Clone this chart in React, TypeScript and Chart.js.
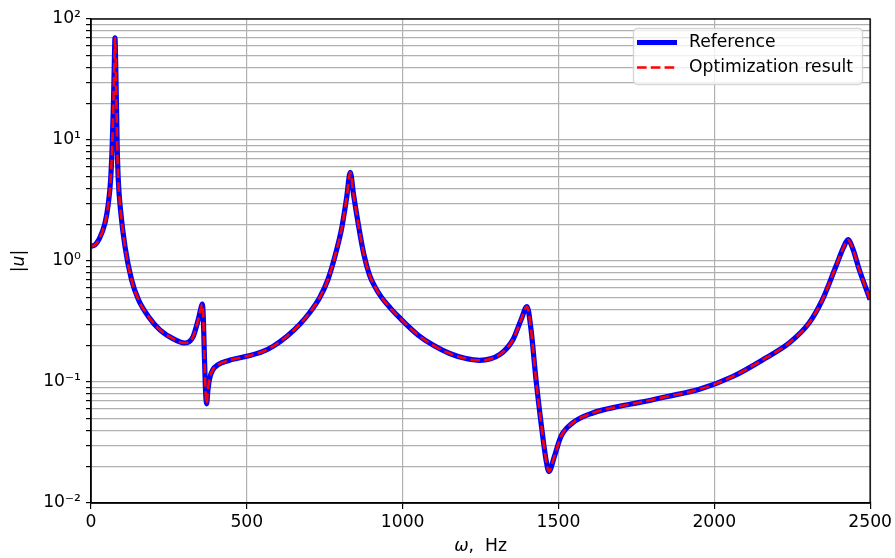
import React, { useEffect, useRef } from "react";
import { Chart, registerables } from "chart.js";

Chart.register(...registerables);

// Frequency (Hz) and response magnitude |u|
const frequencyHz = [
  0, 13, 25, 45, 55, 63, 68, 72, 75, 77, 79, 82, 84, 87.5, 95, 109, 130, 152, 184, 221,
  269, 301, 315, 328, 344, 352, 357, 360, 364, 368, 371, 375, 381, 390, 408, 440, 499, 550, 584, 630,
  670, 700, 734, 760, 785, 805, 820, 832, 842, 857, 875, 894, 910, 930, 960, 990, 1049, 1100, 1151, 1200, 1247,
  1311, 1354, 1380, 1399, 1412, 1428, 1444, 1460, 1469, 1487, 1508, 1546, 1610, 1696, 1760, 1850, 1952, 2059, 2165, 2240,
  2304, 2347, 2390, 2415, 2429, 2445, 2465, 2500,
];

const referenceMagnitude = [
  1.32, 1.36, 1.5, 2.06, 2.9, 4.7, 9, 20, 45, 70, 45, 18, 9, 4.7, 2.6, 1.32, 0.7, 0.48, 0.348, 0.27,
  0.224, 0.21, 0.215, 0.238, 0.327, 0.4, 0.44, 0.36, 0.16, 0.08, 0.066, 0.085, 0.108, 0.125, 0.139, 0.15, 0.163, 0.178, 0.197, 0.24,
  0.3, 0.37, 0.5, 0.7, 1.15, 1.9, 3.3, 5.4, 3.6, 2.06, 1.15, 0.76, 0.62, 0.51, 0.41, 0.34, 0.245, 0.2, 0.172, 0.157, 0.151,
  0.168, 0.224, 0.327, 0.42, 0.27, 0.104, 0.046, 0.0228, 0.0182, 0.0243, 0.0355, 0.046, 0.0555, 0.063, 0.0678, 0.076, 0.087, 0.111, 0.158, 0.21,
  0.307, 0.479, 0.9, 1.3, 1.5, 1.25, 0.85, 0.48,
];

const optimizationMagnitude = [
  1.32, 1.36, 1.5, 2.06, 2.9, 4.7, 9, 20, 45, 70, 45, 18, 9, 4.7, 2.6, 1.32, 0.7, 0.48, 0.348, 0.27,
  0.224, 0.21, 0.215, 0.238, 0.327, 0.4, 0.44, 0.36, 0.16, 0.08, 0.066, 0.085, 0.108, 0.125, 0.139, 0.15, 0.163, 0.178, 0.197, 0.24,
  0.3, 0.37, 0.5, 0.7, 1.15, 1.9, 3.3, 5.4, 3.6, 2.06, 1.15, 0.76, 0.62, 0.51, 0.41, 0.34, 0.245, 0.2, 0.172, 0.157, 0.151,
  0.168, 0.224, 0.327, 0.42, 0.27, 0.104, 0.046, 0.0228, 0.0182, 0.0243, 0.0355, 0.046, 0.0555, 0.063, 0.0678, 0.076, 0.087, 0.111, 0.158, 0.21,
  0.307, 0.479, 0.9, 1.3, 1.5, 1.25, 0.85, 0.48,
];

const seriesLabels = ["Reference", "Optimization result"];
const xTickValues = [0, 500, 1000, 1500, 2000, 2500];
const yDecadeExponents = [-2, -1, 0, 1, 2];
const yTickLabels = ["10\u207B\u00B2", "10\u207B\u00B9", "10\u2070", "10\u00B9", "10\u00B2"];

const FONT = "'DejaVu Sans', sans-serif";
const FONT_SIZE = 17.2;

const framePlugin = {
  id: "frame",
  afterDatasetsDraw(chart: any) {
    const { ctx, chartArea } = chart;
    ctx.save();
    ctx.strokeStyle = "#000";
    ctx.lineWidth = 1.4;
    ctx.strokeRect(chartArea.left, chartArea.top, chartArea.right - chartArea.left, chartArea.bottom - chartArea.top);
    ctx.restore();
  },
};

const legendPlugin = {
  id: "mplLegend",
  afterDraw(chart: any) {
    const { ctx } = chart;
    const x0 = 633, y0 = 28, w = 229, h = 56;
    ctx.save();
    ctx.beginPath();
    (ctx as any).roundRect(x0 + 0.5, y0 + 0.5, w, h, 4);
    ctx.fillStyle = "rgba(255,255,255,0.8)";
    ctx.fill();
    ctx.strokeStyle = "rgba(204,204,204,0.8)";
    ctx.lineWidth = 1.4;
    ctx.stroke();
    chart.data.datasets.forEach((ds: any, i: number) => {
      const cy = 42.5 + i * 25;
      ctx.beginPath();
      ctx.strokeStyle = ds.borderColor;
      ctx.lineWidth = ds.borderWidth;
      ctx.setLineDash(ds.borderDash || []);
      ctx.moveTo(637, cy);
      ctx.lineTo(677, cy);
      ctx.stroke();
      ctx.setLineDash([]);
      ctx.fillStyle = "#000";
      ctx.font = `${FONT_SIZE}px ${FONT}`;
      ctx.textBaseline = "middle";
      ctx.textAlign = "left";
      ctx.fillText(ds.label, 689, cy);
    });
    ctx.restore();
  },
};

const titlesPlugin = {
  id: "axisTitles",
  afterDraw(chart: any) {
    const { ctx, chartArea } = chart;
    ctx.save();
    ctx.fillStyle = "#000";
    ctx.textBaseline = "middle";
    ctx.textAlign = "left";
    const italic = `italic ${FONT_SIZE}px ${FONT}`;
    const normal = `${FONT_SIZE}px ${FONT}`;
    // x title: "ω, Hz" with italic ω
    ctx.font = italic;
    const wOmega = ctx.measureText("\u03C9").width;
    ctx.font = normal;
    const rest = ",  Hz";
    const wRest = ctx.measureText(rest).width;
    const sx = (chartArea.left + chartArea.right) / 2 - (wOmega + wRest) / 2;
    ctx.font = italic;
    ctx.fillText("\u03C9", sx, 547);
    ctx.font = normal;
    ctx.fillText(rest, sx + wOmega, 547);
    // y title: "|u|" with italic u
    ctx.translate(20, (chartArea.top + chartArea.bottom) / 2);
    ctx.rotate(-Math.PI / 2);
    ctx.font = normal;
    const wBar = ctx.measureText("|").width;
    ctx.font = italic;
    const wU = ctx.measureText("u").width;
    const sy = -(2 * wBar + wU) / 2;
    ctx.font = normal;
    ctx.fillText("|", sy, 0);
    ctx.font = italic;
    ctx.fillText("u", sy + wBar, 0);
    ctx.font = normal;
    ctx.fillText("|", sy + wBar + wU, 0);
    ctx.restore();
  },
};

export default function App() {
  const canvasRef = useRef<HTMLCanvasElement | null>(null);

  useEffect(() => {
    const canvas = canvasRef.current;
    if (!canvas) return;
    const refData = frequencyHz.map((f, i) => ({ x: f, y: referenceMagnitude[i] }));
    const optData = frequencyHz.map((f, i) => ({ x: f, y: optimizationMagnitude[i] }));

    const chart = new Chart(canvas, {
      type: "line",
      data: {
        datasets: [
          {
            label: seriesLabels[0],
            data: refData,
            borderColor: "#0000ff",
            borderWidth: 5.2,
            pointRadius: 0,
            cubicInterpolationMode: "monotone",
            fill: false,
            order: 2,
          },
          {
            label: seriesLabels[1],
            data: optData,
            borderColor: "#ff0000",
            borderWidth: 2.6,
            borderDash: [9.6, 4.2],
            pointRadius: 0,
            cubicInterpolationMode: "monotone",
            fill: false,
            order: 1,
          },
        ],
      },
      options: {
        animation: false,
        responsive: false,
        maintainAspectRatio: false,
        layout: { padding: { top: 19, right: 24, left: 0, bottom: 0 } },
        plugins: {
          legend: { display: false },
          tooltip: { enabled: false },
        },
        scales: {
          x: {
            type: "linear",
            min: 0,
            max: 2500,
            afterFit: (scale: any) => {
              scale.height = 55;
            },
            afterBuildTicks: (scale: any) => {
              scale.ticks = xTickValues.map((v) => ({ value: v }));
            },
            ticks: {
              autoSkip: false,
              maxRotation: 0,
              padding: 3,
              color: "#000",
              font: { family: FONT, size: FONT_SIZE },
              callback: (v: any) => String(v),
            },
            grid: {
              color: "#b0b0b0",
              lineWidth: 1.2,
              tickColor: "#000",
              tickLength: 6,
              drawTicks: true,
            },
            border: { color: "#000", width: 1.4 },
          },
          y: {
            type: "logarithmic",
            min: 0.01,
            max: 100,
            afterFit: (scale: any) => {
              scale.width = 91;
            },
            afterBuildTicks: (scale: any) => {
              const ticks: any[] = [];
              yDecadeExponents.forEach((e) => {
                const base = Math.pow(10, e);
                if (e === 2) {
                  ticks.push({ value: base });
                } else {
                  for (let m = 1; m <= 9; m++) ticks.push({ value: m * base });
                }
              });
              scale.ticks = ticks;
            },
            ticks: {
              autoSkip: false,
              padding: 5,
              color: "#000",
              font: { family: FONT, size: FONT_SIZE },
              callback: (v: any) => {
                const e = Math.log10(Number(v));
                const r = Math.round(e);
                if (Math.abs(e - r) < 1e-6) {
                  const idx = yDecadeExponents.indexOf(r);
                  return idx >= 0 ? yTickLabels[idx] : "";
                }
                return "";
              },
            },
            grid: {
              color: "#b0b0b0",
              lineWidth: 1.2,
              tickColor: "#000",
              tickLength: 5,
            },
            border: { color: "#000", width: 1.4 },
          },
        },
      } as any,
      plugins: [framePlugin, legendPlugin, titlesPlugin],
    });
    return () => chart.destroy();
  }, []);

  return (
    <div style={{ position: "absolute", left: 0, top: 0, width: 895, height: 558, background: "#fff" }}>
      <canvas ref={canvasRef} width={895} height={558} style={{ display: "block", width: 895, height: 558 }} />
    </div>
  );
}
